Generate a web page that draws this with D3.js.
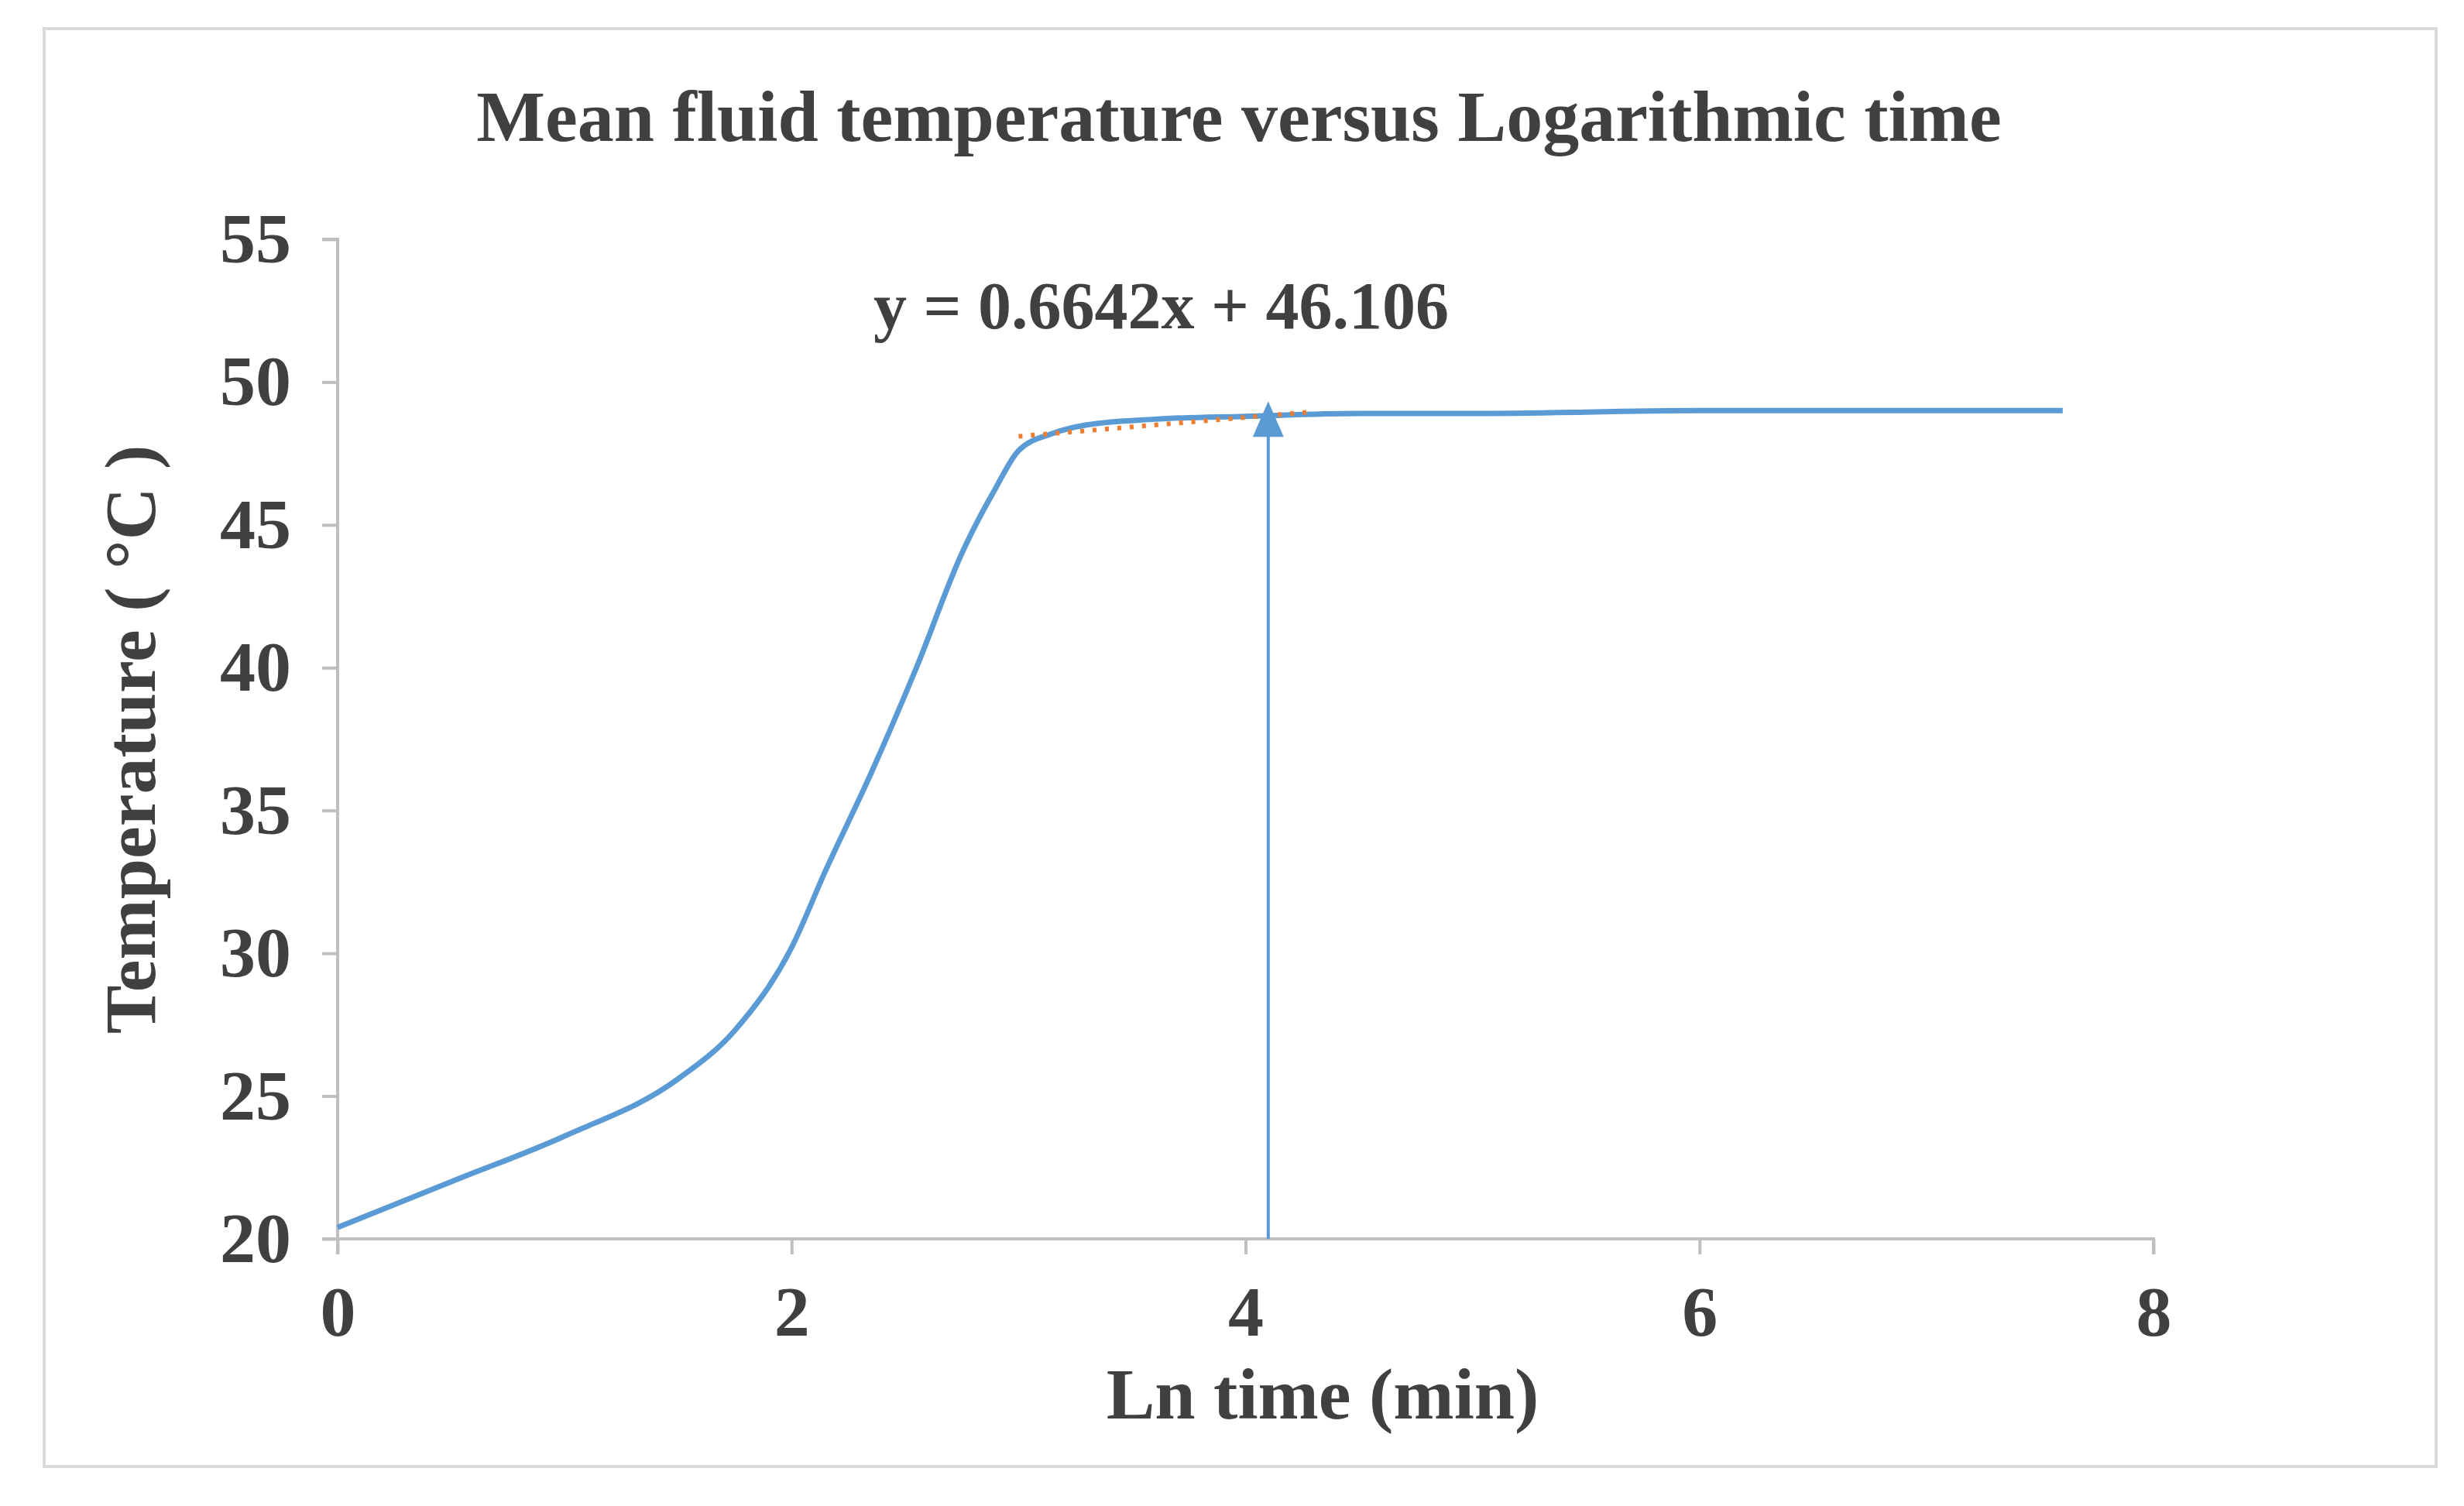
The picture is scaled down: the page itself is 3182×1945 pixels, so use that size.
<!DOCTYPE html>
<html><head><meta charset="utf-8">
<script src="https://cdn.jsdelivr.net/npm/d3@7"></script>
<style>body{margin:0;background:#fff}</style></head>
<body><svg id="c" width="3182" height="1945"></svg>
<script>
const lnTime = [0,0.5,1,1.5,1.75,2,2.15,2.35,2.55,2.75,2.9,3,3.15,3.3,3.6,4,4.5,5,6,7,7.6];
const temperature = [20.4,22,23.6,25.6,27.3,30.2,32.9,36.3,40,44,46.3,47.6,48.2,48.5,48.7,48.8,48.9,48.9,49,49,49];
const xTicks = [0,2,4,6,8];
const yTicks = [20,25,30,35,40,45,50,55];
const slope = 0.6642, intercept = 46.106, fitRange = [3.0, 4.3];
const arrowX = 4.1, arrowTop = 49;

const svg = d3.select("#c");
const font = "'Liberation Serif','Times New Roman',serif";
svg.append("rect").attr("x",57).attr("y",37).attr("width",3089).attr("height",1857).attr("fill","#fff").attr("stroke","#d9d9d9").attr("stroke-width",4);
const x = d3.scaleLinear().domain([0,8]).range([436,2781]);
const y = d3.scaleLinear().domain([20,55]).range([1600,309]);

const ga = svg.append("g").attr("transform","translate(0,1600)").call(d3.axisBottom(x).tickValues(xTicks).tickSize(20).tickPadding(40));
const gy = svg.append("g").attr("transform","translate(436,0)").call(d3.axisLeft(y).tickValues(yTicks).tickSize(20).tickPadding(40));
[ga,gy].forEach(g=>{
  g.selectAll("path,line").attr("stroke","#bfbfbf").attr("stroke-width",4);
  g.selectAll("text").attr("font-family",font).attr("font-weight","bold").attr("font-size",92).attr("fill","#404040");
});
ga.select(".domain").attr("d","M436,20V0H2781V20");
gy.select(".domain").attr("d","M-20,309H0V1600H-20");

svg.append("path").datum(lnTime.map((v,i)=>[v,temperature[i]]))
  .attr("d",d3.line().x(d=>x(d[0])).y(d=>y(d[1])).curve(d3.curveMonotoneX))
  .attr("fill","none").attr("stroke","#5b9bd5").attr("stroke-width",7);

svg.append("line").attr("x1",x(fitRange[0])).attr("x2",x(fitRange[1]))
  .attr("y1",y(slope*fitRange[0]+intercept)).attr("y2",y(slope*fitRange[1]+intercept))
  .attr("stroke","#ed7d31").attr("stroke-width",6).attr("stroke-dasharray","5 11");

svg.append("line").attr("x1",x(arrowX)).attr("x2",x(arrowX)).attr("y1",y(20)).attr("y2",y(arrowTop)+30)
  .attr("stroke","#5b9bd5").attr("stroke-width",4);
const ax = x(arrowX), ay = y(arrowTop);
svg.append("path").attr("d",`M${ax},${ay-12}L${ax-20},${ay+34}L${ax+20},${ay+34}Z`).attr("fill","#5b9bd5");

svg.append("text").attr("x",1600).attr("y",182).attr("text-anchor","middle").attr("font-family",font).attr("font-weight","bold").attr("font-size",94).attr("fill","#404040").text("Mean fluid temperature versus Logarithmic time");
svg.append("text").attr("x",1128).attr("y",424).attr("font-family",font).attr("font-weight","bold").attr("font-size",86).attr("fill","#404040").text("y = 0.6642x + 46.106");
svg.append("text").attr("x",1708).attr("y",1832).attr("text-anchor","middle").attr("font-family",font).attr("font-weight","bold").attr("font-size",94).attr("fill","#404040").text("Ln time (min)");
svg.append("text").attr("transform","translate(200,955) rotate(-90)").attr("text-anchor","middle").attr("font-family",font).attr("font-weight","bold").attr("font-size",94).attr("fill","#404040").text("Temperature ( °C )");
</script></body></html>
